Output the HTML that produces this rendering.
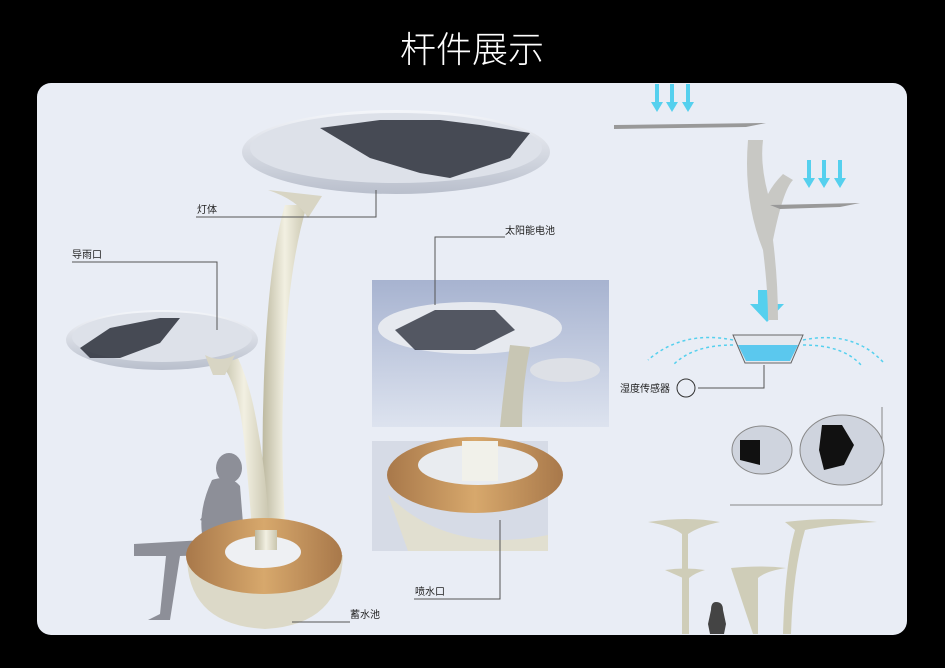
<!DOCTYPE html>
<html><head><meta charset="utf-8"><style>
html,body{margin:0;padding:0;background:#000;width:945px;height:668px;overflow:hidden}
svg{display:block}
text{font-family:"Liberation Sans","Noto Sans CJK SC",sans-serif}
</style></head><body>
<svg width="945" height="668" viewBox="0 0 945 668" xmlns="http://www.w3.org/2000/svg">
<defs>
<linearGradient id="stem" x1="0" x2="1"><stop offset="0" stop-color="#bdb9a0"/><stop offset="0.5" stop-color="#f2f0e2"/><stop offset="1" stop-color="#c9c5ae"/></linearGradient>
<linearGradient id="disc" x1="0" y1="0" x2="0" y2="1"><stop offset="0" stop-color="#f4f6fa"/><stop offset="1" stop-color="#b9bfcc"/></linearGradient>
<linearGradient id="photo1" x1="0" y1="0" x2="0" y2="1"><stop offset="0" stop-color="#a7b3d0"/><stop offset="1" stop-color="#dde3ef"/></linearGradient>
<linearGradient id="wood" x1="0" x2="1"><stop offset="0" stop-color="#a8784a"/><stop offset="0.5" stop-color="#d7a86c"/><stop offset="1" stop-color="#a8784a"/></linearGradient>
</defs>
<rect width="945" height="668" fill="#000"/>
<text x="472" y="62" font-size="36" font-weight="300" fill="#fff" text-anchor="middle">杆件展示</text>
<rect x="37" y="83" width="870" height="552" rx="14" fill="#e9edf5"/>

<!-- shadow person (seated) -->
<g fill="#8d8f98">
<ellipse cx="229" cy="468" rx="13" ry="15"/>
<path d="M212,480 q18,-6 28,6 l4,50 l-40,8 q-8,-30 8,-64z"/>
<path d="M204,540 l-70,4 l0,12 l32,0 l-6,58 l-12,6 l22,0 l10,-64 l60,-2 l-4,-16z"/>
<path d="M220,490 l-20,30 l10,4 l22,-24z"/>
</g>

<!-- stems -->
<path d="M285,205 q-15,50 -20,150 q-5,100 0,200 l22,0 q-8,-110 -2,-200 q4,-90 22,-150z" fill="url(#stem)"/>
<path d="M218,360 q20,20 26,80 q6,60 10,115 l16,0 q-2,-70 -12,-125 q-8,-50 -24,-80z" fill="url(#stem)"/>
<path d="M268,190 q30,10 40,28 l14,-22z" fill="#d8d5c4"/>
<!-- big disc -->
<ellipse cx="396" cy="152" rx="154" ry="42" fill="url(#disc)"/>
<ellipse cx="396" cy="148" rx="146" ry="35" fill="#dde1e9"/>
<path d="M320,128 l60,-8 l60,0 l40,5 l50,8 l-20,25 l-60,20 l-30,-5 l-50,-15z" fill="#2c2f3a" opacity="0.85"/>
<!-- small disc -->
<ellipse cx="162" cy="340" rx="96" ry="30" fill="url(#disc)"/>
<ellipse cx="162" cy="337" rx="90" ry="25" fill="#dde1e9"/>
<path d="M80,348 l30,-20 l50,-10 l20,0 l-20,25 l-40,15 l-30,0z" fill="#2c2f3a" opacity="0.85"/>
<path d="M205,355 q15,8 30,0 l-10,20 l-12,0z" fill="#d8d5c4"/>

<!-- planter -->
<path d="M187,555 q0,70 78,74 q76,-4 78,-74z" fill="#dcd9c8"/>
<ellipse cx="264" cy="556" rx="78" ry="38" fill="url(#wood)"/>
<ellipse cx="263" cy="552" rx="38" ry="16" fill="#eef0f3"/>
<path d="M255,530 l22,0 l0,20 l-22,0z" fill="url(#stem)"/>

<!-- photos -->
<rect x="372" y="280" width="237" height="147" fill="url(#photo1)"/>
<ellipse cx="470" cy="328" rx="92" ry="26" fill="#e6e9ef"/>
<path d="M395,330 l40,-20 l60,0 l20,20 l-40,20 l-60,0z" fill="#2e323f" opacity="0.8"/>
<path d="M510,345 q-6,40 -10,82 l22,0 q0,-40 8,-80z" fill="#c8c6b4"/>
<ellipse cx="565" cy="370" rx="35" ry="12" fill="#dde0e6"/>
<rect x="372" y="441" width="176" height="110" fill="#d6dbe6"/>
<ellipse cx="475" cy="475" rx="88" ry="38" fill="url(#wood)"/>
<ellipse cx="478" cy="465" rx="60" ry="20" fill="#e9ecf0"/>
<rect x="462" y="441" width="36" height="40" fill="#f1f1ea"/>
<path d="M388,495 q60,60 160,40 l0,16 l-140,0z" fill="#e1dfd0"/>

<!-- leader lines -->
<g stroke="#555" stroke-width="1" fill="none">
<polyline points="196,217 376,217 376,190"/>
<polyline points="72,262 217,262 217,330"/>
<polyline points="505,237 435,237 435,305"/>
<polyline points="414,599 500,599 500,520"/>
<polyline points="350,622 292,622"/>
<polyline points="698,388 764,388 764,365"/>
</g>
<g font-size="10" fill="#222">
<text x="197" y="213">灯体</text>
<text x="72" y="258">导雨口</text>
<text x="505" y="234">太阳能电池</text>
<text x="415" y="595">喷水口</text>
<text x="350" y="618">蓄水池</text>
<text x="620" y="392">湿度传感器</text>
</g>
<circle cx="686" cy="388" r="9" fill="none" stroke="#333"/>

<!-- right diagram -->
<g fill="#55d0ee">
<rect x="655" y="84" width="4" height="20"/><rect x="670" y="84" width="4" height="20"/><rect x="686" y="84" width="4" height="20"/>
<polygon points="651,102 663,102 657,112"/><polygon points="666,102 678,102 672,112"/><polygon points="682,102 694,102 688,112"/>
<rect x="807" y="160" width="4" height="20"/><rect x="822" y="160" width="4" height="20"/><rect x="838" y="160" width="4" height="20"/>
<polygon points="803,178 815,178 809,188"/><polygon points="818,178 830,178 824,188"/><polygon points="834,178 846,178 840,188"/>
<rect x="758" y="290" width="18" height="16"/><polygon points="750,304 784,304 767,322"/>
</g>
<path d="M614,125 l152,-2 l-20,4 l-132,2z" fill="#999"/>
<path d="M748,140 q-5,60 15,110 q5,40 5,70 l10,0 q0,-40 -5,-80 q10,-50 20,-60 l-10,-6 q-10,10 -15,20 q-8,-30 -5,-54z" fill="#c8c8c4"/>
<path d="M770,205 l90,-2 l-20,4 l-60,2z" fill="#999"/>
<path d="M733,335 l70,0 l-12,28 l-46,0z" fill="#e5e8ee" stroke="#666"/>
<path d="M738,345 l60,0 l-8,16 l-44,0z" fill="#5bc8ee"/>
<g stroke="#55d0ee" stroke-width="1.5" fill="none" stroke-dasharray="3,3">
<path d="M733,340 q-50,-10 -85,20"/><path d="M733,345 q-40,0 -60,20"/>
<path d="M803,340 q50,-10 80,22"/><path d="M803,345 q40,0 58,20"/>
</g>
<line x1="882" y1="407" x2="882" y2="505" stroke="#888"/>
<line x1="730" y1="505" x2="882" y2="505" stroke="#888"/>
<ellipse cx="842" cy="450" rx="42" ry="35" fill="#cfd4de" stroke="#888"/>
<path d="M822,425 l20,0 l12,20 l-10,20 l-20,5 l-5,-20z" fill="#111"/>
<ellipse cx="762" cy="450" rx="30" ry="24" fill="#cfd4de" stroke="#888"/>
<path d="M740,440 l20,0 l0,25 l-20,-5z" fill="#111"/>
<!-- small lamps -->
<path d="M648,522 q40,-6 72,0 q-20,4 -32,12 l0,100 l-6,0 l0,-100 q-10,-8 -34,-12z" fill="#cfcdb8"/>
<path d="M665,570 q20,-3 40,0 q-10,3 -16,8 l0,56 l-6,0 l0,-56z" fill="#cfcdb8"/>
<path d="M785,522 q50,-6 92,0 q-50,3 -72,8 q-12,40 -14,104 l-8,0 q2,-70 12,-104z" fill="#cfcdb8"/>
<path d="M731,568 q30,-3 55,0 q-20,3 -28,10 l0,56 l-5,0z" fill="#cfcdb8"/>
<path d="M716,602 q7,0 7,8 l3,14 l-2,10 l-14,0 l-2,-10 l3,-14 q0,-8 5,-8z" fill="#444"/>
</svg>
</body></html>
